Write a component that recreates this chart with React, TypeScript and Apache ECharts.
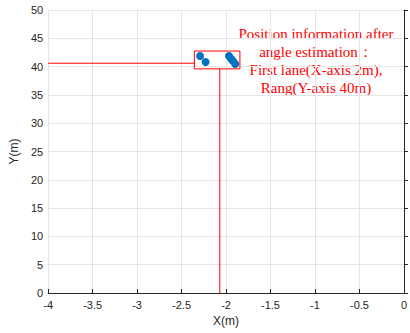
import React, { useEffect, useRef } from "react";
import * as echarts from "echarts";

const xTicks = { min: -4, max: 0, interval: 0.5 };
const yTicks = { min: 0, max: 50, interval: 5 };

const points: [number, number][] = [
  [-2.292, 41.87],
  [-2.23, 40.8],
  [-1.967, 41.87],
  [-1.944, 41.4],
  [-1.922, 41.0],
  [-1.897, 40.46],
];

const rectBox: [number, number][] = [
  [-2.356, 39.6],
  [-1.844, 39.6],
  [-1.844, 42.75],
  [-2.356, 42.75],
  [-2.356, 39.6],
];

const hLine: [number, number][] = [
  [-4, 40.6],
  [-2.356, 40.6],
];

const vLine: [number, number][] = [
  [-2.07, 0],
  [-2.07, 39.6],
];

const annotation = [
  "Position information after",
  "angle estimation：",
  "First lane(X-axis 2m),",
  "Rang(Y-axis 40m)",
];

export default function App() {
  const ref = useRef<HTMLDivElement>(null);
  useEffect(() => {
    if (!ref.current) return;
    const chart = echarts.init(ref.current, undefined, { renderer: "svg" });
    const axisCommon = {
      axisLine: { show: true, lineStyle: { color: "#262626", width: 1 } },
      axisTick: { show: true, inside: true, length: 4, lineStyle: { color: "#262626" } },
      axisLabel: { color: "#262626", fontSize: 11, fontFamily: "Liberation Sans" },
      splitLine: { show: true, lineStyle: { color: "#e5e5e5", width: 1 } },
      nameTextStyle: { color: "#262626", fontSize: 12, fontFamily: "Liberation Sans" },
    };
    const redLine = (data: [number, number][]) => ({
      type: "line",
      data,
      showSymbol: false,
      symbol: "none",
      lineStyle: { color: "#ff0000", width: 1 },
      z: 3,
    });
    chart.setOption({
      animation: false,
      grid: { left: 48, top: 10, width: 360, height: 283, containLabel: false },
      xAxis: {
        type: "value",
        ...xTicks,
        name: "X(m)",
        nameLocation: "middle",
        nameGap: 22,
        ...axisCommon,
        axisLabel: { ...axisCommon.axisLabel, margin: 6 },
      },
      yAxis: {
        type: "value",
        ...yTicks,
        name: "Y(m)",
        nameLocation: "middle",
        nameGap: 22,
        ...axisCommon,
        axisLabel: { ...axisCommon.axisLabel, margin: 5 },
      },
      graphic: [
        {
          type: "text",
          x: 316,
          y: 25,
          style: {
            text: annotation.join("\n"),
            fill: "#ff0000",
            font: "15px 'Liberation Serif'",
            lineHeight: 18,
            align: "center",
            verticalAlign: "top",
          },
        },
      ],
      series: [
        redLine(hLine),
        redLine(vLine),
        redLine(rectBox),
        {
          type: "scatter",
          data: points,
          symbolSize: 8,
          itemStyle: { color: "#0072BD", opacity: 1 },
          z: 4,
        },
      ],
    });
    return () => chart.dispose();
  }, []);
  return (
    <div
      ref={ref}
      style={{ position: "absolute", left: 0, top: 0, width: 410, height: 333 }}
    />
  );
}
